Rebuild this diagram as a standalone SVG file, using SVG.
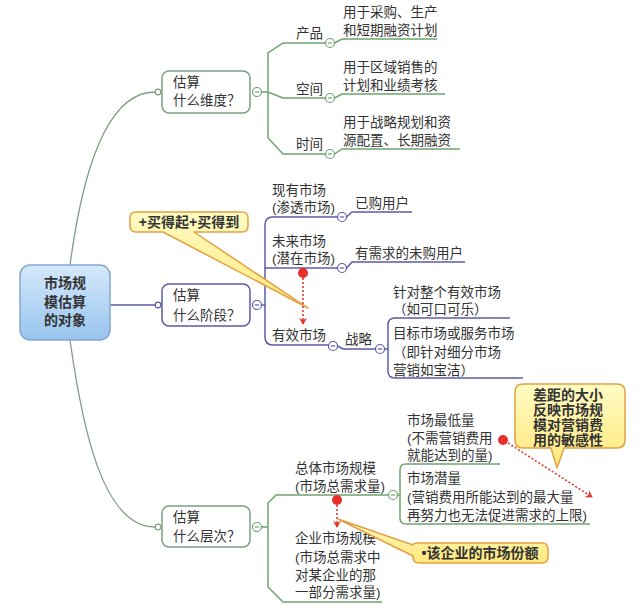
<svg xmlns="http://www.w3.org/2000/svg" xmlns:xlink="http://www.w3.org/1999/xlink" width="640" height="612" viewBox="0 0 640 612">
<style>
  text { font-family: "Liberation Sans", "Noto Sans CJK SC", sans-serif; fill: #333; font-size: 13.5px; }
  .b { font-weight: bold; font-size: 14px; }
  .c { text-anchor: middle; }
  .lg { fill: none; stroke: #6fa36f; stroke-width: 1.5; }
  .lb { fill: none; stroke: #5b5ca8; stroke-width: 1.5; }
  .curve { fill: none; stroke: #7f9f80; stroke-width: 1.3; }
  .nodeG { fill: #fff; stroke: #7f9f80; stroke-width: 1.5; }
  .nodeB { fill: #fff; stroke: #5b5ca8; stroke-width: 1.5; }
  .callout { fill: url(#yel); stroke: #e4a043; stroke-width: 1.5; stroke-linejoin: round; }
  .red { fill: none; stroke: #e03a30; stroke-width: 1.6; stroke-dasharray: 2 2; }
  .dot { fill: #e8302a; }
</style>
<defs>
  <linearGradient id="blu" x1="0" y1="0" x2="0" y2="1">
    <stop offset="0" stop-color="#d4e8fb"/>
    <stop offset="1" stop-color="#98c4ee"/>
  </linearGradient>
  <linearGradient id="yel" x1="0" y1="0" x2="0" y2="1">
    <stop offset="0" stop-color="#fffcc4"/>
    <stop offset="1" stop-color="#ffe77a"/>
  </linearGradient>
  <g id="mG"><circle r="4.5" fill="#fff" stroke="#6fa36f" stroke-width="1.2"/><line x1="-2.2" x2="2.2" stroke="#6fa36f" stroke-width="1.2"/></g>
  <g id="mB"><circle r="4.5" fill="#fff" stroke="#5b5ca8" stroke-width="1.2"/><line x1="-2.2" x2="2.2" stroke="#5b5ca8" stroke-width="1.2"/></g>
  <marker id="ah" markerWidth="8" markerHeight="8" refX="6" refY="4" orient="auto" markerUnits="userSpaceOnUse">
    <path d="M0,0 L7,4 L0,8 L2,4 Z" fill="#e03a30"/>
  </marker>
</defs>

<g id="connectors">
  <!-- root to branches -->
  <path class="curve" d="M70,265 C82,175 105,92 155,92"/>
  <path class="curve" d="M70,340 C82,425 102,527 155,527"/>
  <path class="lb" d="M110,305 H155"/>
  <circle cx="158" cy="92" r="2.8" fill="#fff" stroke="#7f9f80" stroke-width="1.2"/>
  <circle cx="158" cy="305" r="2.8" fill="#fff" stroke="#5b5ca8" stroke-width="1.2"/>
  <circle cx="158" cy="527" r="2.8" fill="#fff" stroke="#7f9f80" stroke-width="1.2"/>

  <!-- branch 1 -->
  <path class="lg" d="M261.5,92 H268 L283,98 H325.5"/>
  <path class="lg" d="M325.5,43 H283 L268,53 V138 L283,154 H325.5"/>
  <path class="lg" d="M334.5,43 L342,39 H437"/>
  <path class="lg" d="M334.5,98 L342,94 H445"/>
  <path class="lg" d="M334.5,154 L342,149 H460"/>

  <!-- branch 2 -->
  <path class="lb" d="M261.5,305 H265"/>
  <path class="lb" d="M337.5,217 H273 Q265,217 265,225 V337 Q265,345 273,345 H328.5"/>
  <path class="lb" d="M265,268 H337.5"/>
  <path class="lb" d="M346.5,217 L352,212 H412"/>
  <path class="lb" d="M346.5,268 L352,262 H465"/>
  <path class="lb" d="M337.5,346 L343,349 H375.5"/>
  <path class="lb" d="M384.5,349 H388"/>
  <path class="lb" d="M510,318 H395 Q388,318 388,325 V371 Q388,378 395,378 H523"/>

  <!-- branch 3 -->
  <path class="lg" d="M261.5,527 H268"/>
  <path class="lg" d="M388.5,495 H276 L268,503 V587 L283,602 H382"/>
  <path class="lg" d="M397.5,495 H400"/>
  <path class="lg" d="M500,464 H406 Q400,464 400,470 V518 Q400,524 406,524 H590"/>

  <!-- collapse buttons -->
  <use href="#mG" x="257" y="92"/>
  <use href="#mG" x="330" y="43"/>
  <use href="#mG" x="330" y="98"/>
  <use href="#mG" x="330" y="154"/>
  <use href="#mB" x="257" y="305"/>
  <use href="#mB" x="342" y="217"/>
  <use href="#mB" x="342" y="268"/>
  <use href="#mB" x="333" y="346"/>
  <use href="#mB" x="380" y="349"/>
  <use href="#mG" x="257" y="527"/>
  <use href="#mG" x="393" y="495"/>
</g>

<g id="root">
  <rect x="20" y="265" width="90" height="75" rx="10" fill="url(#blu)" stroke="#84a9cc" stroke-width="1.5"/>
  <text class="b c" x="65" y="288">市场规</text>
  <text class="b c" x="65" y="307">模估算</text>
  <text class="b c" x="65" y="325">的对象</text>
</g>

<g id="node-dimension">
  <rect class="nodeG" x="162" y="71" width="88" height="42" rx="7"/>
  <text x="173" y="87">估算</text>
  <text x="173" y="105">什么维度？</text>
</g>
<g id="node-stage">
  <rect class="nodeB" x="162" y="284" width="88" height="42" rx="7"/>
  <text x="173" y="300">估算</text>
  <text x="173" y="320">什么阶段？</text>
</g>
<g id="node-level">
  <rect class="nodeG" x="162" y="506" width="88" height="41" rx="7"/>
  <text x="173" y="522">估算</text>
  <text x="173" y="541">什么层次？</text>
</g>

<g id="n-product"><text x="296" y="38">产品</text></g>
<g id="n-space"><text x="296" y="94">空间</text></g>
<g id="n-time"><text x="296" y="149">时间</text></g>
<g id="l-product"><text x="343" y="17">用于采购、生产</text><text x="343" y="35">和短期融资计划</text></g>
<g id="l-space"><text x="343" y="72">用于区域销售的</text><text x="343" y="90">计划和业绩考核</text></g>
<g id="l-time"><text x="343" y="127">用于战略规划和资</text><text x="343" y="145">源配置、长期融资</text></g>

<g id="n-existing"><text x="272" y="195">现有市场</text><text x="272" y="212">(渗透市场)</text></g>
<g id="n-future"><text x="272" y="246">未来市场</text><text x="272" y="263">(潜在市场)</text></g>
<g id="n-effective"><text x="272" y="340">有效市场</text></g>
<g id="l-bought"><text x="355" y="208">已购用户</text></g>
<g id="l-need"><text x="355" y="258">有需求的未购用户</text></g>
<g id="n-strategy"><text x="345" y="344">战略</text></g>
<g id="l-whole"><text x="393" y="297">针对整个有效市场</text><text x="393" y="314">（如可口可乐）</text></g>
<g id="l-target"><text x="393" y="338">目标市场或服务市场</text><text x="393" y="357">（即针对细分市场</text><text x="393" y="375">营销如宝洁）</text></g>

<g id="n-total"><text x="295" y="473">总体市场规模</text><text x="295" y="491">(市场总需求量)</text></g>
<g id="n-enterprise"><text x="295" y="543">企业市场规模</text><text x="295" y="562">(市场总需求中</text><text x="295" y="580">对某企业的那</text><text x="295" y="597">一部分需求量)</text></g>
<g id="l-min"><text x="407" y="425">市场最低量</text><text x="407" y="443">(不需营销费用</text><text x="407" y="460">就能达到的量)</text></g>
<g id="l-potential"><text x="407" y="483">市场潜量</text><text x="407" y="502">(营销费用所能达到的最大量</text><text x="407" y="520">再努力也无法促进需求的上限)</text></g>

<g id="callout-afford">
  <path class="callout" d="M136,212 H242 Q248,212 248,218 V226 Q248,232 242,232 H194 L308,308 L163,232 H136 Q130,232 130,226 V218 Q130,212 136,212 Z"/>
  <text class="b c" x="189" y="227">+买得起+买得到</text>
  <circle class="dot" cx="303" cy="273" r="5"/>
  <path class="red" d="M303,278 V324" marker-end="url(#ah)"/>
</g>

<g id="callout-gap">
  <path class="callout" d="M523,384 H617 Q625,384 625,392 V440 Q625,448 617,448 H564 L557,468 L551,448 H523 Q515,448 515,440 V392 Q515,384 523,384 Z"/>
  <text class="b c" x="568" y="400">差距的大小</text>
  <text class="b c" x="568" y="415">反映市场规</text>
  <text class="b c" x="568" y="430">模对营销费</text>
  <text class="b c" x="568" y="445">用的敏感性</text>
  <circle class="dot" cx="503" cy="440" r="5"/>
  <path class="red" d="M508,443 L592,497" marker-end="url(#ah)"/>
</g>

<g id="callout-share">
  <path class="callout" d="M413,545 L338,519 L413,556 V557 Q413,563 419,563 H542 Q548,563 548,557 V549 Q548,543 542,543 H419 Q413,543 413,545 Z"/>
  <text class="b c" x="480" y="558">•该企业的市场份额</text>
  <circle class="dot" cx="337" cy="500" r="5"/>
  <path class="red" d="M337,505 V527" marker-end="url(#ah)"/>
</g>
</svg>
